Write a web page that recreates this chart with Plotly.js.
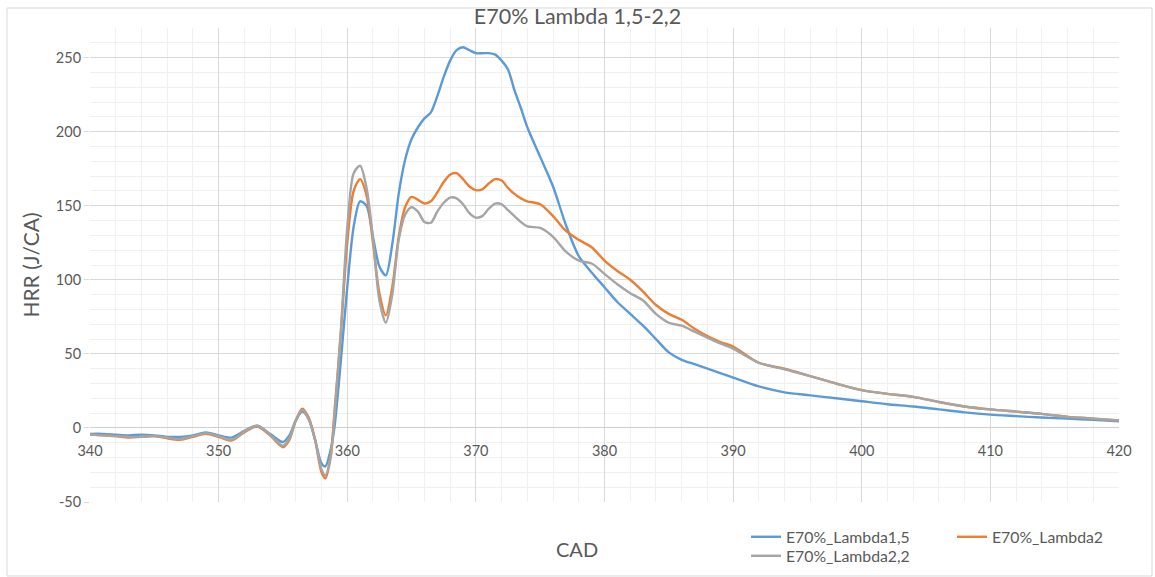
<!DOCTYPE html>
<html>
<head>
<meta charset="utf-8">
<script src="https://cdn.plot.ly/plotly-3.0.1.min.js"></script>
<style>html,body{margin:0;padding:0;background:#fff;}#chart{width:1155px;height:577px;}</style>
</head>
<body>
<div id="chart"></div>
<script>
const chartTitle = "E70% Lambda 1,5-2,2";
const xTitle = "CAD";
const yTitle = "HRR (J/CA)";
const seriesNames = ["E70%_Lambda1,5", "E70%_Lambda2", "E70%_Lambda2,2"];
const seriesColors = ["#5B9BD5", "#ED7D31", "#A5A5A5"];

const cad = [340,341,342,343,344,345,346,347,348,349,350,351,352,353,354,355,355.5,356,356.5,357,357.5,358,358.3,358.7,359,359.5,360,360.5,361,361.5,362,362.5,363,363.5,364,364.5,365,365.5,366,366.5,367,367.5,368,368.5,369,369.5,370,370.5,371,371.5,372,372.5,373,373.5,374,375,376,377,378,379,380,381,382,383,384,385,386,387,388,389,390,392,394,396,398,400,402,404,406,408,410,412,414,416,418,420];

const lambda15 = [-4,-4,-4.5,-5,-4.5,-5,-6,-6,-5,-3,-5,-6.5,-2,1.5,-4,-9.5,-5,5,11,6,-8,-24,-26,-15,0,45,95,136,153,150,129,109,103,124,158,181,195,203,209,213,224,237,248,255,257,255,253,253,253,252,248,242,228,216,203,183,163,137,116,105,95,85,77,69,60,51,46,43,40,37,34,28,24,22,20,18,16,14.5,12.5,10.5,9,8,7,6.3,5.5,4.5];

const lambda2 = [-4.5,-5,-5.5,-6.5,-6,-5.5,-7,-8,-6,-4,-6,-8.5,-3,1,-5,-13,-8,5,13,7,-8,-30,-34,-20,10,64,125,160,168,157,125,91,76,95,129,149,156,154,151.5,153,159,166,171,172,168,163,160.5,161,165,168,167,162,158,155,153,151,143,133,127,122,113,106,100,92,83,77,73,67,62,58,55,44,40,35,30,25.5,23,21,17.5,14.5,12.5,11,9.5,7.5,6.3,5];

const lambda22 = [-4.5,-5,-5.5,-6,-6,-5.5,-6.5,-7.5,-5.5,-3.5,-5.5,-8,-2.5,1.5,-4.5,-12,-7,5,12,6,-8,-28,-32,-20,8,65,135,172,177,162,128,86,71,90,127,144,149,146,139,138.5,146,152,155.5,155,151,145,142,143,148,151.5,151,147,143,139,136,135,129,119,113,111,104,97,91,86,77,71,69,65,61,57,53.5,44,39.5,35,30,25.5,23,21,17.5,14.5,12.5,11,9.5,7.5,6.3,5];

const xTicks = [340,350,360,370,380,390,400,410,420];
const yTicks = [-50,0,50,100,150,200,250];

const values = [lambda15, lambda2, lambda22];
const legendIds = ["legend", "legend3", "legend2"];

const textColor = "#595959";
const fontFamily = "Lato, 'Open Sans', sans-serif";

const traces = values.map((v, i) => ({
  x: cad, y: v, type: "scatter", mode: "lines",
  name: seriesNames[i],
  legend: legendIds[i],
  showlegend: true,
  line: {color: seriesColors[i], width: 2.4, shape: "spline", smoothing: 0.8}
}));

const W = 1029, H = 474, L = 90, B = 502;
const legendFont = {size: 15.8, color: textColor};
function legendAt(px, py) {
  return {
    visible: true,
    orientation: "h", x: (px - L) / W, xanchor: "left", y: (B - py) / H, yanchor: "top",
    font: legendFont, bgcolor: "rgba(0,0,0,0)"
  };
}

const layout = {
  width: 1155, height: 577,
  showlegend: true,
  margin: {l: 90, r: 36, t: 28, b: 75, autoexpand: false},
  paper_bgcolor: "#ffffff", plot_bgcolor: "#ffffff",
  font: {family: fontFamily, color: textColor},
  title: {text: chartTitle, font: {size: 21.5, color: textColor, family: fontFamily}, x: 0.5, xanchor: "center", xref: "container", y: 0.972, yanchor: "middle"},
  xaxis: {
    range: [340, 420], tickvals: xTicks, ticktext: xTicks.map(String),
    anchor: "free", position: 50/320, automargin: false,
    showline: false, zeroline: false, ticks: "outside", ticklen: 10, tickcolor: "rgba(0,0,0,0)",
    showgrid: true, gridcolor: "#d9d9d9", gridwidth: 1,
    minor: {dtick: 2, tick0: 340, showgrid: true, gridcolor: "#f0f0f0", gridwidth: 1, ticks: ""},
    tickfont: {size: 14.5, color: textColor}
  },
  yaxis: {
    range: [-50, 270], tickvals: yTicks, ticktext: yTicks.map(String), automargin: false,
    showline: false, zeroline: true, zerolinecolor: "#cfcfcf", zerolinewidth: 1,
    ticks: "outside", ticklen: 5, tickcolor: "#d9d9d9",
    showgrid: true, gridcolor: "#d9d9d9", gridwidth: 1,
    minor: {dtick: 10, tick0: 0, showgrid: true, gridcolor: "#f0f0f0", gridwidth: 1, ticks: ""},
    tickfont: {size: 14.5, color: textColor},
    title: {text: yTitle, font: {size: 21, color: textColor}, standoff: 10}
  },
  annotations: [{
    text: xTitle, xref: "paper", yref: "paper",
    x: (577 - L) / W, y: (B - 549) / H, xanchor: "center", yanchor: "middle",
    showarrow: false, font: {size: 20, color: textColor}
  }],
  legend: legendAt(746, 520),
  legend3: legendAt(952, 520),
  legend2: legendAt(746, 539),
  shapes: [{
    type: "rect", xref: "paper", yref: "paper",
    x0: (7-90)/1029, x1: (1152-90)/1029, y0: (502-576)/474, y1: (502-8)/474,
    line: {color: "#d9d9d9", width: 1}, fillcolor: "rgba(0,0,0,0)", layer: "below"
  }]
};

Plotly.newPlot("chart", traces, layout, {displayModeBar: false, staticPlot: true});
</script>
</body>
</html>
